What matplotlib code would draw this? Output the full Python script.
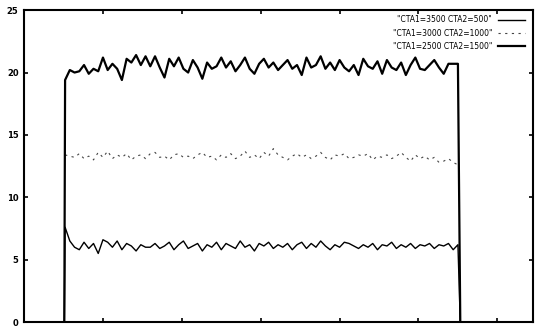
import numpy as np
import matplotlib.pyplot as plt

# Data
t = np.arange(52, 551, 6)
t_start = 51
t_end = 553

cta_3500 = [7.6, 6.5, 6.0, 5.8, 6.4, 5.9, 6.3, 5.5,
            6.6, 6.4, 6.0, 6.5, 5.8, 6.3, 6.1, 5.7,
            6.2, 6.0, 6.0, 6.3, 5.9, 6.1, 6.4, 5.8,
            6.2, 6.5, 5.9, 6.1, 6.3, 5.7, 6.2, 6.0,
            6.4, 5.8, 6.3, 6.1, 5.9, 6.5, 6.0, 6.2,
            5.7, 6.3, 6.1, 6.4, 5.9, 6.2, 6.0, 6.3,
            5.8, 6.2, 6.4, 5.9, 6.3, 6.0, 6.5, 6.1,
            5.8, 6.2, 6.0, 6.4, 6.3, 6.1, 5.9, 6.2,
            6.0, 6.3, 5.8, 6.2, 6.1, 6.4, 5.9, 6.2,
            6.0, 6.3, 5.9, 6.2, 6.1, 6.3, 5.9, 6.2,
            6.1, 6.3, 5.8, 6.2]

cta_3000 = [13.4, 13.3, 13.2, 13.5, 13.1, 13.3, 13.0, 13.6,
            13.2, 13.7, 13.1, 13.4, 13.2, 13.5, 13.0, 13.3,
            13.4, 13.1, 13.5, 13.6, 13.2, 13.3, 13.0, 13.4,
            13.5, 13.2, 13.3, 13.1, 13.4, 13.6, 13.2, 13.3,
            13.0, 13.4, 13.2, 13.5, 13.1, 13.3, 13.7, 13.2,
            13.4, 13.1, 13.6, 13.3, 13.9, 13.4, 13.2, 13.0,
            13.3, 13.5, 13.2, 13.4, 13.1, 13.3, 13.6, 13.2,
            13.0, 13.4, 13.3, 13.5, 13.1, 13.2, 13.4, 13.3,
            13.5, 13.0, 13.3, 13.2, 13.4, 13.1, 13.3, 13.6,
            13.2, 12.9, 13.4, 13.1, 13.3, 13.0, 13.2, 12.8,
            12.9, 13.1, 12.8, 12.6]

cta_2500 = [19.4, 20.2, 20.0, 20.1, 20.6, 19.9, 20.3, 20.1,
            21.2, 20.2, 20.7, 20.3, 19.4, 21.1, 20.8, 21.4,
            20.6, 21.3, 20.5, 21.3, 20.4, 19.6, 21.1, 20.5,
            21.2, 20.3, 20.0, 21.0, 20.4, 19.5, 20.8, 20.3,
            20.5, 21.2, 20.4, 20.9, 20.1, 20.6, 21.2, 20.3,
            19.9, 20.7, 21.1, 20.4, 20.8, 20.2, 20.6, 21.0,
            20.3, 20.6, 19.8, 21.2, 20.4, 20.6, 21.3, 20.3,
            20.8, 20.2, 21.0, 20.4, 20.1, 20.6, 19.8, 21.1,
            20.5, 20.3, 20.9, 19.9, 21.0, 20.4, 20.2, 20.8,
            19.8, 20.6, 21.2, 20.3, 20.2, 20.6, 21.0, 20.4,
            19.9, 20.7, 20.7, 20.7]

labels = ['"CTA1=3500 CTA2=500"', '"CTA1=3000 CTA2=1000"', '"CTA1=2500 CTA2=1500"']

x_full = np.concatenate([[t_start], t, [t_end]])

fig = plt.figure(figsize=(5.35, 3.27), dpi=100)
ax = fig.add_axes([0.045, 0.015, 0.951, 0.954])

ax.plot(x_full, np.concatenate([[0], cta_3500, [0]]), color='black', lw=1.0, label=labels[0])
ax.plot(t, cta_3000, color='#444444', lw=0.8, ls=(0, (2, 4)), label=labels[1])
ax.plot(x_full, np.concatenate([[0], cta_2500, [0]]), color='black', lw=1.6, label=labels[2])

ax.set_xlim(0, 645)
ax.set_ylim(0, 25)
ax.set_yticks([0, 5, 10, 15, 20, 25])
ax.set_xticks([100, 200, 300, 400, 500, 600])
ax.set_xticklabels([])
ax.tick_params(direction='in', top=True, right=True, length=3, width=1.2,
               labelsize=6, pad=4)
for lab in ax.get_yticklabels():
    lab.set_fontweight('bold')
for s in ax.spines.values():
    s.set_linewidth(1.5)

ax.legend(loc='upper right', frameon=False, fontsize=5.5, markerfirst=False,
          handlelength=3.5, labelspacing=0.55, borderaxespad=0.3,
          bbox_to_anchor=(0.995, 1.0))

fig.savefig('out.png', dpi=100)
